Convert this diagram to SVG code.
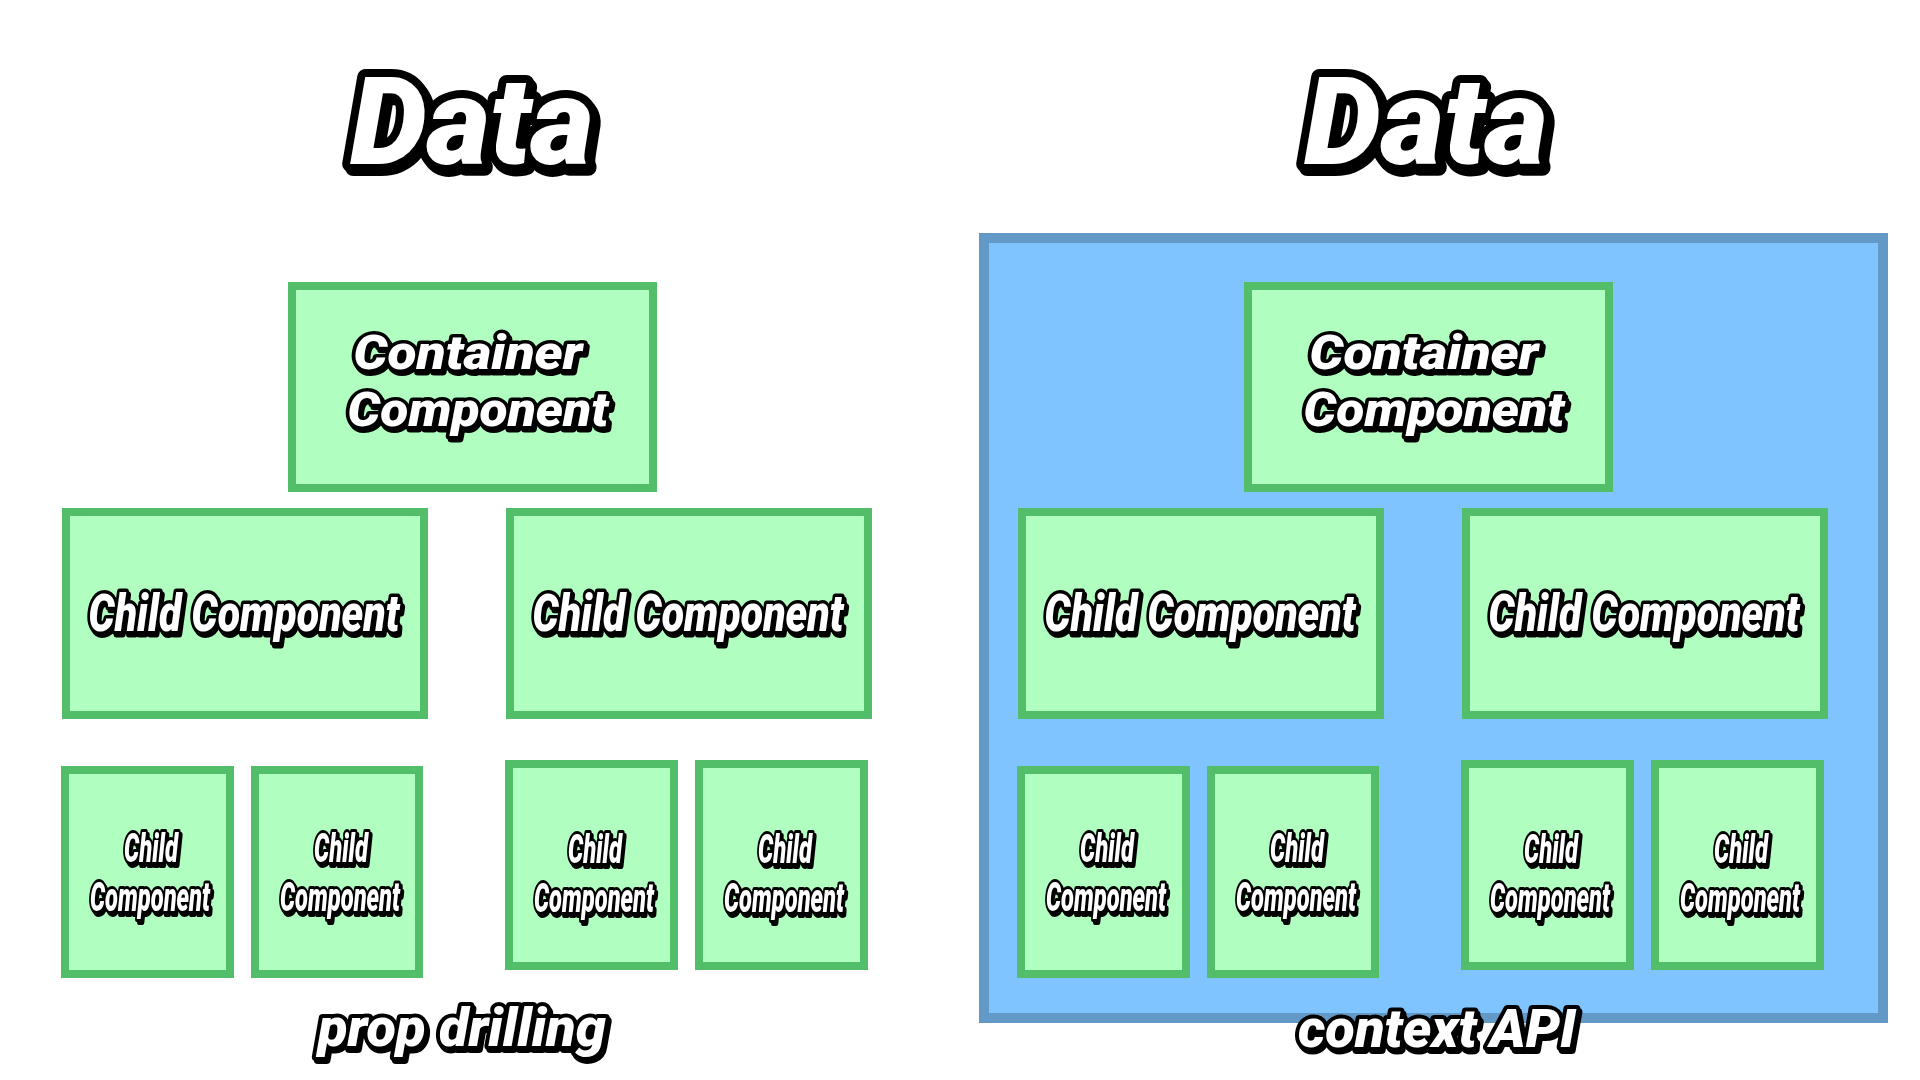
<svg xmlns="http://www.w3.org/2000/svg" width="1920" height="1080" viewBox="0 0 1920 1080">
<style>
.bg{fill:#ffffff}
.node{fill:#b0ffc0;stroke:#52be6a;stroke-width:8}
.ctx{fill:#80c4ff;stroke:#6399c7;stroke-width:10}
text{font-family:Roboto,Lato,"Open Sans","Liberation Sans",sans-serif;font-weight:900;font-style:italic;fill:#ffffff;stroke:#000000;paint-order:stroke;stroke-linejoin:round;text-anchor:middle}
.t-data{font-size:122px;stroke-width:16}
.t-big{font-size:48px;stroke-width:7}
.t-mid{font-size:52px;stroke-width:7}
.t-small{font-size:40px;stroke-width:6}
.t-cap{font-size:54px;stroke-width:8}
</style>
<defs>
<filter id="sh" x="-10%" y="-20%" width="130%" height="150%">
<feDropShadow dx="2" dy="3" stdDeviation="0" flood-color="#000000" flood-opacity="1"/>
</filter>
<filter id="shBig" x="-10%" y="-20%" width="130%" height="150%">
<feDropShadow dx="3" dy="4" stdDeviation="0" flood-color="#000000" flood-opacity="1"/>
</filter>
</defs>
<rect class="bg" x="0" y="0" width="1920" height="1080"/>

<g id="title-left" filter="url(#shBig)"><text class="t-data" x="472" y="164" textLength="244" lengthAdjust="spacingAndGlyphs">Data</text></g>
<g id="title-right" filter="url(#shBig)"><text class="t-data" x="1426" y="164" textLength="244" lengthAdjust="spacingAndGlyphs">Data</text></g>

<g id="context-api-box"><rect class="ctx" x="984" y="238" width="899" height="780"/></g>

<g id="connectors"></g>

<!-- Left: prop drilling -->
<g id="container-left">
<rect class="node" x="292" y="286" width="361" height="202"/>
<g filter="url(#sh)">
<text class="t-big" x="468" y="369" textLength="229" lengthAdjust="spacingAndGlyphs">Container</text>
<text class="t-big" x="478" y="426" textLength="261" lengthAdjust="spacingAndGlyphs">Component</text>
</g>
</g>
<g id="child-left-1">
<rect class="node" x="66" y="512" width="358" height="203"/>
<text class="t-mid" x="244" y="631" textLength="311" lengthAdjust="spacingAndGlyphs" filter="url(#sh)">Child Component</text>
</g>
<g id="child-left-2">
<rect class="node" x="510" y="512" width="358" height="203"/>
<text class="t-mid" x="688" y="631" textLength="311" lengthAdjust="spacingAndGlyphs" filter="url(#sh)">Child Component</text>
</g>
<g id="grandchild-left-1">
<rect class="node" x="65" y="770" width="165" height="204"/>
<g filter="url(#sh)">
<text class="t-small" x="151" y="862" textLength="54" lengthAdjust="spacingAndGlyphs">Child</text>
<text class="t-small" x="150" y="911" textLength="120" lengthAdjust="spacingAndGlyphs">Component</text>
</g>
</g>
<g id="grandchild-left-2">
<rect class="node" x="255" y="770" width="164" height="204"/>
<g filter="url(#sh)">
<text class="t-small" x="341" y="862" textLength="54" lengthAdjust="spacingAndGlyphs">Child</text>
<text class="t-small" x="340" y="911" textLength="120" lengthAdjust="spacingAndGlyphs">Component</text>
</g>
</g>
<g id="grandchild-left-3">
<rect class="node" x="509" y="764" width="165" height="202"/>
<g filter="url(#sh)">
<text class="t-small" x="595" y="863" textLength="54" lengthAdjust="spacingAndGlyphs">Child</text>
<text class="t-small" x="594" y="912" textLength="120" lengthAdjust="spacingAndGlyphs">Component</text>
</g>
</g>
<g id="grandchild-left-4">
<rect class="node" x="699" y="764" width="165" height="202"/>
<g filter="url(#sh)">
<text class="t-small" x="785" y="863" textLength="54" lengthAdjust="spacingAndGlyphs">Child</text>
<text class="t-small" x="784" y="912" textLength="120" lengthAdjust="spacingAndGlyphs">Component</text>
</g>
</g>

<!-- Right: context API -->
<g id="container-right">
<rect class="node" x="1248" y="286" width="361" height="202"/>
<g filter="url(#sh)">
<text class="t-big" x="1424" y="369" textLength="229" lengthAdjust="spacingAndGlyphs">Container</text>
<text class="t-big" x="1434" y="426" textLength="261" lengthAdjust="spacingAndGlyphs">Component</text>
</g>
</g>
<g id="child-right-1">
<rect class="node" x="1022" y="512" width="358" height="203"/>
<text class="t-mid" x="1200" y="631" textLength="311" lengthAdjust="spacingAndGlyphs" filter="url(#sh)">Child Component</text>
</g>
<g id="child-right-2">
<rect class="node" x="1466" y="512" width="358" height="203"/>
<text class="t-mid" x="1644" y="631" textLength="311" lengthAdjust="spacingAndGlyphs" filter="url(#sh)">Child Component</text>
</g>
<g id="grandchild-right-1">
<rect class="node" x="1021" y="770" width="165" height="204"/>
<g filter="url(#sh)">
<text class="t-small" x="1107" y="862" textLength="54" lengthAdjust="spacingAndGlyphs">Child</text>
<text class="t-small" x="1106" y="911" textLength="120" lengthAdjust="spacingAndGlyphs">Component</text>
</g>
</g>
<g id="grandchild-right-2">
<rect class="node" x="1211" y="770" width="164" height="204"/>
<g filter="url(#sh)">
<text class="t-small" x="1297" y="862" textLength="54" lengthAdjust="spacingAndGlyphs">Child</text>
<text class="t-small" x="1296" y="911" textLength="120" lengthAdjust="spacingAndGlyphs">Component</text>
</g>
</g>
<g id="grandchild-right-3">
<rect class="node" x="1465" y="764" width="165" height="202"/>
<g filter="url(#sh)">
<text class="t-small" x="1551" y="863" textLength="54" lengthAdjust="spacingAndGlyphs">Child</text>
<text class="t-small" x="1550" y="912" textLength="120" lengthAdjust="spacingAndGlyphs">Component</text>
</g>
</g>
<g id="grandchild-right-4">
<rect class="node" x="1655" y="764" width="165" height="202"/>
<g filter="url(#sh)">
<text class="t-small" x="1741" y="863" textLength="54" lengthAdjust="spacingAndGlyphs">Child</text>
<text class="t-small" x="1740" y="912" textLength="120" lengthAdjust="spacingAndGlyphs">Component</text>
</g>
</g>

<g id="caption-left" filter="url(#sh)"><text class="t-cap" x="462" y="1046" textLength="288" lengthAdjust="spacingAndGlyphs">prop drilling</text></g>
<g id="caption-right" filter="url(#sh)"><text class="t-cap" x="1437" y="1047" textLength="278" lengthAdjust="spacingAndGlyphs">context API</text></g>
</svg>
